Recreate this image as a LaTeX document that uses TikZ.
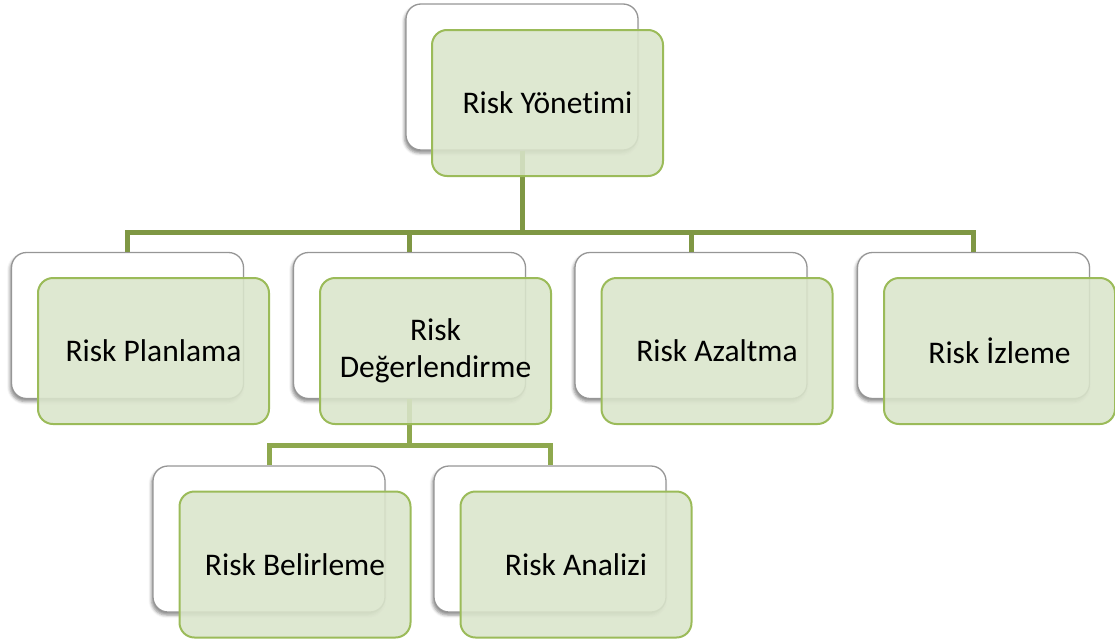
\documentclass[tikz,border=0pt]{standalone}
\usepackage{fontspec}
\setmainfont{Carlito}[Ligatures={NoCommon}]
\usetikzlibrary{shadows.blur}
\definecolor{connclr}{RGB}{127,151,68}
\definecolor{connclrb}{RGB}{142,168,78}
\definecolor{cardedge}{RGB}{150,150,150}
\definecolor{greenfill}{RGB}{218,229,203}
\definecolor{greenedge}{RGB}{155,187,89}
\tikzset{
  backcard/.style={draw=cardedge, line width=1.3pt, fill=white, rounded corners=15pt,
    minimum width=232pt, minimum height=146pt, inner sep=0pt,
    blur shadow={shadow xshift=-1.5pt, shadow yshift=-3pt, shadow blur radius=3pt, shadow opacity=45}},
  frontcard/.style={draw=greenedge, line width=2pt, fill=greenfill, fill opacity=0.88,
    text opacity=1, rounded corners=15pt, minimum width=231pt, minimum height=146pt,
    inner sep=0pt, align=center, font=\fontsize{31.5}{37}\selectfont},
  conn/.style={draw=connclr, line width=5pt},
  connb/.style={draw=connclrb, line width=5pt}
}
\begin{document}
\begin{tikzpicture}[x=1pt, y=-1pt]
\useasboundingbox (0,0) rectangle (1115,640);
\coordinate (bar1) at (0,232);
\coordinate (bar2) at (0,445.5);

% back cards
\node[backcard] (top) at (522,77) {};
\node[backcard] (plan) at (127.5,325.5) {};
\node[backcard] (deg) at (409.5,325.5) {};
\node[backcard] (azl) at (691,325.5) {};
\node[backcard] (izl) at (973.5,325.5) {};
\node[backcard] (bel) at (269,539) {};
\node[backcard] (ana) at (550,539) {};

% connectors
\foreach \c in {plan,deg,azl,izl}
  \draw[conn] (top.south) |- (\c.north |- bar1) -- (\c.north);
\foreach \c in {bel,ana}
  \draw[connb] (deg.south) |- (\c.north |- bar2) -- (\c.north);

% front cards with labels
\node[frontcard] (topF) at (547.5,103) {Risk Yönetimi};
\node[frontcard] (planF) at (153.5,351) {Risk Planlama};
\node[frontcard] (degF) at (435.5,351) {Risk\\Değerlendirme};
\node[frontcard] (azlF) at (717,351) {Risk Azaltma};
\node[frontcard] (izlF) at (999.5,351) {Risk İzleme};
\node[frontcard] (belF) at (295,564.5) {Risk Belirleme};
\node[frontcard] (anaF) at (576,564.5) {Risk Analizi};
\end{tikzpicture}
\end{document}
